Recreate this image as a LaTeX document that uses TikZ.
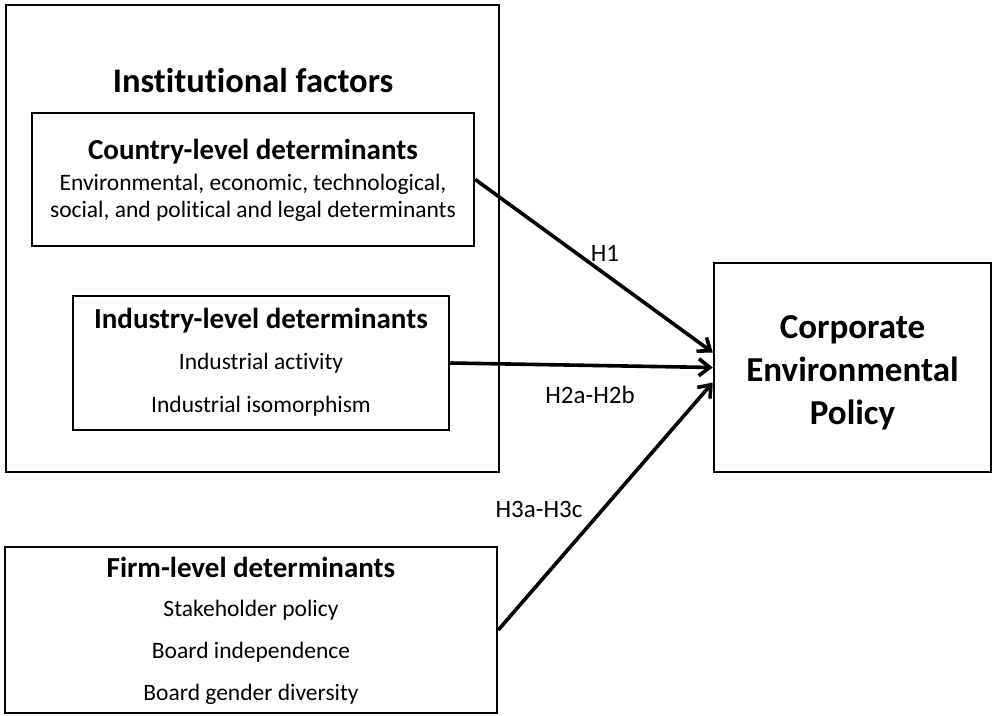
\documentclass[tikz,border=0pt]{standalone}
\usepackage{fontspec}
\setmainfont[Ligatures=NoCommon]{Carlito}
\usetikzlibrary{arrows.meta,calc}

\begin{document}
\begin{tikzpicture}[x=1pt,y=-1pt,
  box/.style={draw,line width=2.5pt,inner sep=0pt},
  head/.style={font=\fontsize{29}{34}\selectfont\bfseries},
  item/.style={font=\fontsize{23.5}{28}\selectfont},
  hyp/.style={font=\fontsize{25}{30}\selectfont},
  link/.style={line width=3.6pt,-{Straight Barb[length=11pt,width=17pt,line width=3.6pt]}}]
  \useasboundingbox (0,0) rectangle (992,715);

  % institutional block
  \node[box,minimum width=493pt,minimum height=467pt] (inst) at (252.5,238.5) {};
  \node[font=\fontsize{34.5}{40}\selectfont\bfseries] (insttitle) at (253,81) {Institutional factors};

  \node[box,minimum width=442pt,minimum height=133pt] (country) at (253,179.5) {};
  \node[head] (countryhead) at (253,152) {Country-level determinants};
  \node[item] (c1) at (253,184) {Environmental, economic, technological,};
  \node[item] (c2) at (253,211) {social, and political and legal determinants};

  \node[box,minimum width=376pt,minimum height=134pt] (industry) at (261,363) {};
  \node[head] (industryhead) at (261,321) {Industry-level determinants};
  \node[item] (i1) at (261,363) {Industrial activity};
  \node[item] (i2) at (261,406) {Industrial isomorphism};

  % firm block
  \node[box,minimum width=492pt,minimum height=166pt] (firm) at (251,630) {};
  \node[head] (firmhead) at (251,567) {Firm-level determinants};
  \node[item] (f1) at (251,610) {Stakeholder policy};
  \node[item] (f2) at (251,652) {Board independence};
  \node[item] (f3) at (251,694) {Board gender diversity};

  % outcome
  \node[box,minimum width=277pt,minimum height=209pt] (cep) at (852.5,367.5) {};
  \node[align=center,font=\fontsize{35}{43}\selectfont\bfseries] (ceptext)
        at ($(cep)+(0,5)$) {Corporate\\Environmental\\Policy};

  \coordinate (cepA) at ($(cep.west)+(0,-15)$);
  \coordinate (cepB) at (cep.west);
  \coordinate (cepC) at ($(cep.west)+(0,15)$);

  \draw[link] (country.east) -- (cepA);
  \draw[link] (industry.east) -- (cepB);
  \draw[link] (firm.east) -- (cepC);

  \node[hyp] (h1) at (605,253) {H1};
  \node[hyp] (h2) at (590,395) {H2a-H2b};
  \node[hyp] (h3) at (539,509) {H3a-H3c};
\end{tikzpicture}
\end{document}
